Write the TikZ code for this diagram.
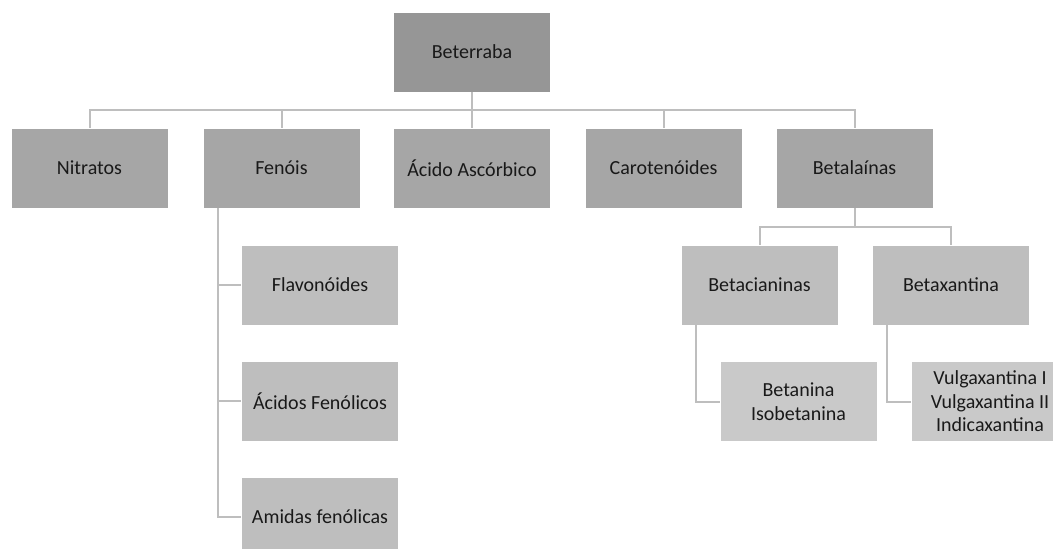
\documentclass[tikz,border=0pt]{standalone}
\usepackage{fontspec}
\setmainfont{Carlito}
\definecolor{top}{RGB}{150,150,150}
\definecolor{lvla}{RGB}{166,166,166}
\definecolor{lvlb}{RGB}{190,190,190}
\definecolor{lvlc}{RGB}{201,201,201}
\definecolor{wire}{RGB}{190,190,190}
\tikzset{
  box/.style={draw=white, line width=0.8pt, minimum width=157pt, minimum height=80pt,
    inner sep=0pt, align=center, font=\fontsize{20}{23.5}\selectfont, text=black!90},
  link/.style={draw=wire, line width=2pt}
}

\begin{document}
\begin{tikzpicture}[x=1pt, y=-1pt]
         \useasboundingbox (0,0) rectangle (1053,549);
         \clip (0,0) rectangle (1053,549);
         \node [box, fill=top] (B) at (472, 52) {Beterraba};
         \node [box, fill=lvla] (N) at (89.5, 168) {Nitratos};
         \node [box, fill=lvla] (F) at (281.5, 168) {Fenóis};
         \node [box, fill=lvla] (AA) at (472, 168) {Ácido Ascórbico};
         \node [box, fill=lvla] (C) at (663.5, 168) {Carotenóides};
         \node [box, fill=lvla] (BL) at (854.5, 168) {Betalaínas};
         \node [box, fill=lvlb] (FL) at (320, 285) {Flavonóides};
         \node [box, fill=lvlb] (AF) at (320, 401) {Ácidos Fenólicos};
         \node [box, fill=lvlb] (AM) at (320, 517) {Amidas fenólicas};
         \node [box, fill=lvlb] (BC) at (759.5, 285) {Betacianinas};
         \node [box, fill=lvlb] (BX) at (951, 285) {Betaxantina};
         \node [box, fill=lvlc] (BT) at (798.5, 401.5) {Betanina\\Isobetanina};
         \node [box, fill=lvlc] (VX) at (990, 401.5) {Vulgaxantina I\\Vulgaxantina II\\Indicaxantina};
         \draw [link] (B.south) -- +(0,18) -| (N.north);
         \draw [link] (B.south) -- +(0,18) -| (F.north);
         \draw [link] (B.south) -- (AA.north);
         \draw [link] (B.south) -- +(0,18) -| (C.north);
         \draw [link] (B.south) -- +(0,18) -| (BL.north);
         \draw [link] ([xshift=15pt]F.south west) |- (FL.west);
         \draw [link] ([xshift=15pt]F.south west) |- (AF.west);
         \draw [link] ([xshift=15pt]F.south west) |- (AM.west);
         \draw [link] (BL.south) -- +(0,19) -| (BC.north);
         \draw [link] (BL.south) -- +(0,19) -| (BX.north);
         \draw [link] ([xshift=15pt]BC.south west) |- (BT.west);
         \draw [link] ([xshift=15pt]BX.south west) |- (VX.west);
\end{tikzpicture}
\end{document}
